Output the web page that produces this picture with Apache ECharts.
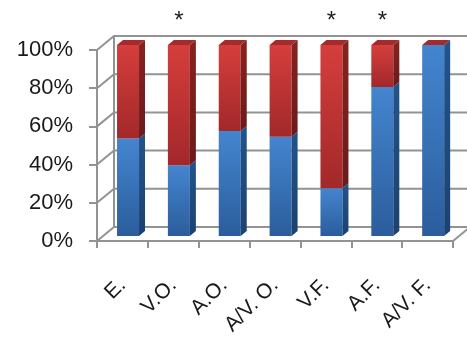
<!DOCTYPE html>
<html>
<head>
<meta charset="utf-8">
<script src="https://cdn.jsdelivr.net/npm/echarts@6/dist/echarts.min.js"></script>
<style>
  html, body { margin: 0; padding: 0; background: #fff; }
  #chart { width: 467px; height: 338px; }
</style>
</head>
<body>
<div id="chart"></div>
<script>
// Share of responses per condition (percent of the stack)
const categories = ['E.', 'V.O.', 'A.O.', 'A/V. O.', 'V.F.', 'A.F.', 'A/V. F.'];
const blueShare = [51, 37, 55, 52, 25, 78, 100];
const redShare  = [49, 63, 45, 48, 75, 22, 0];
const markers   = ['', '*', '', '', '*', '*', ''];
const yTicks    = [0, 20, 40, 60, 80, 100];

const GRID = '#939393';
// depth vectors for the pseudo-3D look
const WALL = [17, -14];   // back wall relative to front plane
const BAR = [5.6, -5];    // front face of the bars
const SIDE = [6, -5];     // bar thickness
const BAR_W = 22;

function grad(c0, c1) {
  return new echarts.graphic.LinearGradient(0, 0, 0, 1, [
    { offset: 0, color: c0 }, { offset: 1, color: c1 }
  ]);
}

function renderWalls(params, api) {
  const children = [];
  const first = api.coord([0, 0]);
  const bw = api.size([1, 0])[0];
  const xl = first[0] - bw / 2;
  const xr = api.coord([categories.length - 1, 0])[0] + bw / 2;
  const right = params.coordSys.x + params.coordSys.width + 20;
  yTicks.forEach(v => {
    const y = api.coord([0, v])[1];
    children.push({
      type: 'polyline',
      shape: { points: [[xl, y], [xl + WALL[0], y + WALL[1]], [right, y + WALL[1]]] },
      style: { stroke: GRID, lineWidth: 2, fill: null }
    });
  });
  const yTop = api.coord([0, 100])[1];
  const yBot = api.coord([0, 0])[1];
  children.push({
    type: 'line',
    shape: { x1: xl + WALL[0], y1: yTop + WALL[1], x2: xl + WALL[0], y2: yBot + WALL[1] },
    style: { stroke: GRID, lineWidth: 2 }
  });
  children.push({
    type: 'line',
    shape: { x1: xr, y1: yBot, x2: xr + WALL[0], y2: yBot + WALL[1] },
    style: { stroke: GRID, lineWidth: 2 }
  });
  return { type: 'group', children };
}

function box(x0, yT, yB, front, side) {
  const x1 = x0 + BAR_W;
  return [
    { type: 'rect', shape: { x: x0, y: yT, width: BAR_W, height: yB - yT }, style: { fill: front } },
    { type: 'polygon', shape: { points: [[x1, yT], [x1 + SIDE[0], yT + SIDE[1]], [x1 + SIDE[0], yB + SIDE[1]], [x1, yB]] }, style: { fill: side } }
  ];
}

function renderBars(params, api) {
  const i = api.value(0);
  const b = api.value(1);
  const r = api.value(2);
  const base = api.coord([i, 0]);
  const x0 = base[0] + BAR[0] - BAR_W / 2;
  const y0 = base[1] + BAR[1];
  const yb = api.coord([i, b])[1] + BAR[1];
  const yr = api.coord([i, b + r])[1] + BAR[1];
  let children = [];
  children = children.concat(box(x0, yb, y0,
    grad('#4485cf', '#2b5d9c'), grad('#22548a', '#1b4270')));
  if (r > 0) {
    children = children.concat(box(x0, yr, yb,
      grad('#d53e3c', '#a2282a'), grad('#86231f', '#6a1b1b')));
  }
  // top cap of the stack
  const x1 = x0 + BAR_W;
  children.push({
    type: 'polygon',
    shape: { points: [[x0, yr], [x1, yr], [x1 + SIDE[0], yr + SIDE[1]], [x0 + SIDE[0], yr + SIDE[1]]] },
    style: { fill: '#a42b2b' }
  });
  const m = markers[i];
  if (m) {
    const top = api.coord([i, 100]);
    children.push({
      type: 'text',
      x: x0 + BAR_W / 2,
      y: top[1] - 29,
      style: { text: m, fill: '#222', font: '24px "Liberation Sans"', align: 'center', verticalAlign: 'middle' }
    });
  }
  return { type: 'group', children };
}

const chart = echarts.init(document.getElementById('chart'), null, { renderer: 'canvas' });
chart.setOption({
  animation: false,
  grid: { left: 97, right: 14, top: 50, bottom: 97 },
  xAxis: {
    type: 'category',
    data: categories,
    axisLine: { show: true, lineStyle: { color: GRID, width: 2 } },
    axisTick: { show: true, interval: 0, length: 7, lineStyle: { color: GRID, width: 2 } },
    axisLabel: { rotate: 45, margin: 41, interval: 0, color: '#1a1a1a', fontSize: 21, fontFamily: 'Liberation Sans' },
    splitLine: { show: false }
  },
  yAxis: {
    type: 'value',
    min: 0, max: 100, interval: 20,
    axisLine: { show: true, lineStyle: { color: GRID, width: 2 } },
    axisTick: { show: true, length: 8, lineStyle: { color: GRID, width: 2 } },
    axisLabel: { formatter: '{value}%', margin: 24, color: '#1a1a1a', fontSize: 22, fontFamily: 'Liberation Sans' },
    splitLine: { show: false }
  },
  series: [
    {
      type: 'custom',
      renderItem: renderWalls,
      data: [[0, 0]],
      silent: true,
      z: 1
    },
    {
      type: 'custom',
      renderItem: renderBars,
      encode: { x: 0, y: 1 },
      data: categories.map((c, i) => [i, blueShare[i], redShare[i]]),
      z: 2
    }
  ]
});
</script>
</body>
</html>
